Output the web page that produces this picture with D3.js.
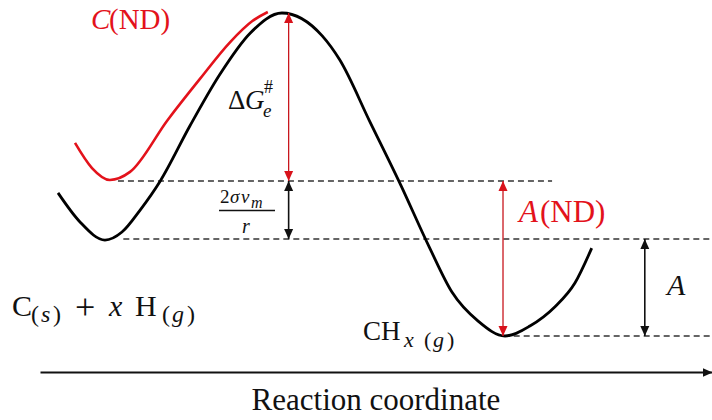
<!DOCTYPE html>
<html>
<head>
    <title>Reaction coordinate</title>
    <script src="https://cdn.jsdelivr.net/npm/d3@7"></script>
    <style>
        body { margin: 0; background: #fff; }
        text { font-family: "Liberation Serif", "DejaVu Serif", serif; }
    </style>
</head>
<body>
    <div id="chart"></div>
    <script type="text/javascript">
        // reaction coordinate (0-100) vs free energy (product minimum = 0, transition state = 100)
        var blackCurve = [
            [2.68, 44.3], [5.95, 35.3], [9.67, 29.7], [12.2, 32.2], [14.9, 39.0],
            [17.9, 48.0], [22.3, 65.0], [26.8, 81.1], [31.3, 93.8], [36.0, 100],
            [42.0, 92.9], [44.6, 85.5], [49.1, 66.3], [53.6, 47.1], [58.0, 27.2],
            [61.3, 13.6], [65.2, 4.6], [69.2, 0], [72.9, 3.1], [76.6, 9.0],
            [79.6, 16.4], [82.1, 27.2]
        ];
        var redCurve = [
            [5.21, 59.8], [7.74, 52.0], [10.4, 48.3], [13.4, 50.8], [19.0, 66.9],
            [23.8, 79.6], [28.3, 91.0], [31.6, 97.5], [33.9, 100.3]
        ];

        // energy levels
        var levelTS = 100, levelND = 48, levelR = 30, levelP = 0;

        // dashed reference lines: [from x, to x, energy]
        var dashLines = [
            [11.6, 76.2, levelND],
            [12.4, 100, levelR],
            [69.0, 100, levelP]
        ];

        // double arrows: [x, top energy, bottom energy, red?]
        var arrows = [
            [37.0, levelTS, levelND, true],
            [37.0, levelND, levelR, false],
            [68.9, levelND, levelP, true],
            [90.0, levelR, levelP, false]
        ];

        var axisLabel = "Reaction coordinate";

        var width = 712;
        var height = 420;
        var red = "#e3121b";

        var xScale = d3.scaleLinear().domain([0, 100]).range([40, 712]);
        var yScale = d3.scaleLinear().domain([0, 100]).range([336, 13]);

        var svg = d3.select("#chart").append("svg")
            .attr("width", width)
            .attr("height", height)
            .style("background", "#fff");

        var defs = svg.append("defs");
        function marker(id, color) {
            defs.append("marker")
                .attr("id", id)
                .attr("viewBox", "0 0 10 10")
                .attr("refX", 10).attr("refY", 5)
                .attr("markerUnits", "userSpaceOnUse")
                .attr("markerWidth", 10).attr("markerHeight", 10)
                .attr("orient", "auto-start-reverse")
                .append("path")
                .attr("d", "M0,0.5 L10,5 L0,9.5 z")
                .attr("fill", color);
        }
        marker("headRed", "#d8121b");
        marker("headBlack", "#111");

        // dashed levels
        svg.append("g").selectAll("line")
            .data(dashLines)
            .enter().append("line")
                .attr("x1", function(d) { return xScale(d[0]); })
                .attr("x2", function(d) { return xScale(d[1]); })
                .attr("y1", function(d) { return yScale(d[2]); })
                .attr("y2", function(d) { return yScale(d[2]); })
                .attr("stroke", "#333")
                .attr("stroke-width", 1.5)
                .attr("stroke-dasharray", "6,4");

        var line = d3.line()
            .x(function(d) { return xScale(d[0]); })
            .y(function(d) { return yScale(d[1]); })
            .curve(d3.curveMonotoneX);

        svg.append("path")
            .attr("d", line(redCurve))
            .attr("fill", "none")
            .attr("stroke", red)
            .attr("stroke-width", 2.6);

        svg.append("path")
            .attr("d", line(blackCurve))
            .attr("fill", "none")
            .attr("stroke", "#000")
            .attr("stroke-width", 2.8);

        // vertical arrows
        svg.append("g").selectAll("line")
            .data(arrows)
            .enter().append("line")
                .attr("x1", function(d) { return xScale(d[0]); })
                .attr("x2", function(d) { return xScale(d[0]); })
                .attr("y1", function(d) { return yScale(d[1]); })
                .attr("y2", function(d) { return yScale(d[2]); })
                .attr("stroke", function(d) { return d[3] ? "#c8161d" : "#111"; })
                .attr("stroke-width", function(d) { return d[3] ? 1.3 : 1.6; })
                .attr("marker-start", function(d) { return d[3] ? "url(#headRed)" : "url(#headBlack)"; })
                .attr("marker-end", function(d) { return d[3] ? "url(#headRed)" : "url(#headBlack)"; });

        // axis
        var axis = svg.append("g")
            .attr("transform", "translate(0,372)")
            .call(d3.axisBottom(xScale).tickValues([]).tickSizeOuter(0));
        axis.select(".domain")
            .attr("stroke", "#111")
            .attr("stroke-width", 2)
            .attr("marker-end", "url(#headBlack)");

        svg.append("text")
            .attr("x", 376).attr("y", 410)
            .attr("text-anchor", "middle")
            .attr("font-size", 31)
            .attr("fill", "#111")
            .text(axisLabel);

        // small helper for placed glyphs
        function glyph(x, y, size, str, italic, color) {
            return svg.append("text")
                .attr("x", x).attr("y", y)
                .attr("font-size", size)
                .attr("font-style", italic ? "italic" : "normal")
                .attr("fill", color || "#111")
                .text(str);
        }

        // C(ND), A(ND), A
        glyph(91, 29, 29, "C", true, red);
        glyph(109, 29, 29, "(ND)", false, red);
        glyph(519, 222, 31, "A", true, red);
        glyph(540, 222, 31, "(ND)", false, red);
        glyph(667, 295, 30, "A", true);

        // delta G
        glyph(228, 109, 27, "Δ", false);
        glyph(245, 109, 27, "G", true);
        glyph(263, 117, 19, "e", true);
        glyph(264, 93, 18, "#", false);

        // fraction 2 sigma v_m / r
        glyph(220, 203, 19, "2", false);
        glyph(230, 203, 19, "σ", true);
        glyph(241, 203, 19, "v", true);
        glyph(251, 208, 16, "m", true);
        svg.append("line").attr("x1", 219).attr("x2", 275).attr("y1", 210.5).attr("y2", 210.5)
            .attr("stroke", "#111").attr("stroke-width", 1.6);
        glyph(242, 233, 20, "r", true);

        // reactants C(s) + x H(g)
        glyph(12, 316, 30, "C", false);
        glyph(31, 322, 24, "(", false);
        glyph(41, 322, 24, "s", true);
        glyph(53, 322, 24, ")", false);
        glyph(75, 319, 36, "+", false);
        glyph(109, 316, 30, "x", true);
        glyph(135, 316, 30, "H", false);
        glyph(162, 322, 24, "(", false);
        glyph(172, 322, 24, "g", true);
        glyph(187, 322, 24, ")", false);

        // product CH_x(g)
        glyph(363, 340, 27, "CH", false);
        glyph(404, 347, 22, "x", true);
        glyph(424, 347, 22, "(", false);
        glyph(433, 347, 22, "g", true);
        glyph(447, 347, 22, ")", false);
    </script>
</body>
</html>
